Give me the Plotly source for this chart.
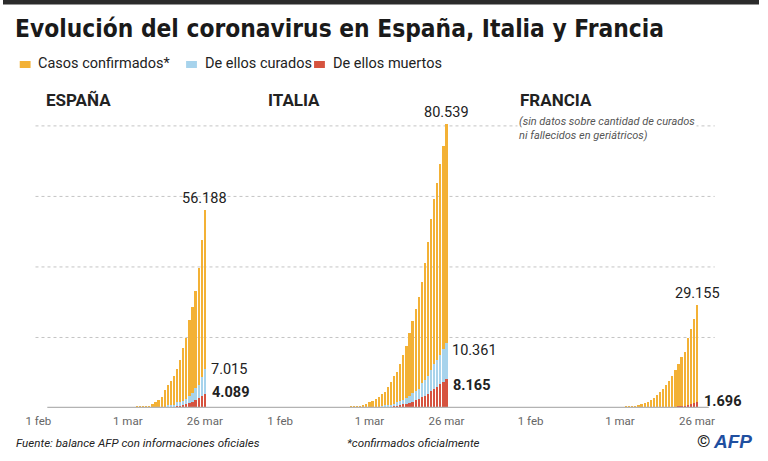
import plotly.graph_objects as go
import pandas as pd

# ---------------- data ----------------
dates = pd.date_range("2020-02-01", "2020-03-26", freq="D").strftime("%Y-%m-%d").tolist()

esp_conf_feb = [1, 1, 1, 1, 1, 1, 1, 1, 2, 2, 2, 2, 2, 2, 2, 2, 2, 2, 2, 2, 2, 2, 2, 2, 6, 13, 15, 32, 45]
esp_conf_mar = [84, 120, 165, 228, 282, 401, 525, 674, 1231, 1695, 2277, 3146, 5232, 6391, 7753, 9191,
                11178, 13716, 17147, 19980, 24926, 28572, 33089, 39673, 47610, 56188]
esp_rec_feb = [0, 0, 0, 0, 0, 0, 0, 0, 0, 0, 0, 0, 0, 0, 2, 2, 2, 2, 2, 2, 2, 2, 2, 2, 2, 2, 2, 2, 2]
esp_rec_mar = [2, 2, 2, 2, 2, 30, 30, 30, 32, 32, 183, 189, 193, 517, 517, 530, 1028, 1081, 1107, 1588,
               2125, 2575, 3355, 3794, 5367, 7015]
esp_dead_feb = [0, 0, 0, 0, 0, 0, 0, 0, 0, 0, 0, 0, 0, 0, 0, 0, 0, 0, 0, 0, 0, 0, 0, 0, 0, 0, 0, 0, 0]
esp_dead_mar = [0, 0, 1, 2, 3, 5, 10, 17, 28, 35, 54, 84, 133, 195, 289, 342, 533, 623, 830, 1043, 1375,
                1772, 2182, 2696, 3434, 4089]

ita_conf_feb = [2, 2, 2, 2, 2, 3, 3, 3, 3, 3, 3, 3, 3, 3, 3, 3, 3, 3, 3, 3, 20, 79, 155, 229, 322, 453, 655, 888, 1128]
ita_conf_mar = [1694, 2036, 2502, 3089, 3858, 4636, 5883, 7375, 9172, 10149, 12462, 15113, 17660, 21157,
                24747, 27980, 31506, 35713, 41035, 47021, 53578, 59138, 63927, 69176, 74386, 80539]
ita_rec_feb = [0, 0, 0, 0, 0, 0, 0, 0, 0, 0, 0, 0, 0, 0, 0, 0, 0, 0, 0, 0, 0, 0, 0, 0, 1, 3, 45, 46, 46]
ita_rec_mar = [83, 149, 160, 276, 414, 523, 589, 622, 724, 1004, 1045, 1258, 1439, 1966, 2335, 2749, 2941,
               4025, 4440, 5129, 6072, 7024, 7432, 8326, 9362, 10361]
ita_dead_feb = [0, 0, 0, 0, 0, 0, 0, 0, 0, 0, 0, 0, 0, 0, 0, 0, 0, 0, 0, 0, 1, 2, 3, 7, 10, 12, 17, 21, 29]
ita_dead_mar = [34, 52, 79, 107, 148, 197, 233, 366, 463, 631, 827, 1016, 1266, 1441, 1809, 2158, 2503,
                2978, 3405, 4032, 4825, 5476, 6077, 6820, 7503, 8165]

fra_conf_feb = [6, 6, 6, 6, 6, 6, 6, 11, 11, 11, 11, 11, 11, 11, 12, 12, 12, 12, 12, 12, 12, 12, 12, 12, 14, 18, 38, 57, 100]
fra_conf_mar = [130, 191, 212, 285, 423, 653, 949, 1126, 1412, 1784, 2284, 2876, 3661, 4499, 5423, 6633,
                7652, 9043, 10871, 12612, 14459, 16018, 19856, 22302, 25233, 29155]
fra_dead_feb = [0, 0, 0, 0, 0, 0, 0, 0, 0, 0, 0, 0, 0, 0, 1, 1, 1, 1, 1, 1, 1, 1, 1, 1, 1, 1, 1, 1, 1]
fra_dead_mar = [2, 3, 4, 4, 7, 9, 11, 19, 25, 33, 48, 61, 79, 91, 127, 148, 175, 264, 372, 450, 562, 674,
                860, 1100, 1331, 1696]

tick_vals = ["2020-02-01", "2020-03-01", "2020-03-26"]
tick_text = ["1 feb", "1 mar", "26 mar"]
grid_vals = [20000, 40000, 60000, 80000]

countries = [
    dict(name="ESPAÑA", conf=esp_conf_feb + esp_conf_mar, rec=esp_rec_feb + esp_rec_mar,
         dead=esp_dead_feb + esp_dead_mar, ax="x", p0=36, rec_shift=-1, dead_shift=1),
    dict(name="ITALIA", conf=ita_conf_feb + ita_conf_mar, rec=ita_rec_feb + ita_rec_mar,
         dead=ita_dead_feb + ita_dead_mar, ax="x2", p0=281.5, rec_shift=-8, dead_shift=-6),
    dict(name="FRANCIA", conf=fra_conf_feb + fra_conf_mar, rec=None,
         dead=fra_dead_feb + fra_dead_mar, ax="x3", p0=536, rec_shift=0, dead_shift=1),
]

# ---------------- style ----------------
W, H = 768, 461
FONT = "Roboto, sans-serif"
TFONT = "DejaVu Sans Condensed, Roboto, sans-serif"
YEL, BLU, RED = "#F3B135", "#A7D3EC", "#D6533F"
PX_DAY = 3.13
BASE_PY = 408
PX_PER_UNIT = 284 / 80539
YMAX = 85000


def X(px):
    return px / W


def Y(py):
    return 1 - py / H


fig = go.Figure()
layout_axes = {}
for i, c in enumerate(countries):
    ax = c["ax"]
    rec = c["rec"] if c["rec"] is not None else [0] * len(c["conf"])
    rest = [cf - r - d for cf, r, d in zip(c["conf"], rec, c["dead"])]
    fig.add_trace(go.Bar(x=dates, y=c["dead"], marker_color=RED, marker_line_width=0,
                         xaxis=ax, yaxis="y", showlegend=False, hoverinfo="skip"))
    if c["rec"] is not None:
        fig.add_trace(go.Bar(x=dates, y=rec, marker_color=BLU, marker_line_width=0,
                             xaxis=ax, yaxis="y", showlegend=False, hoverinfo="skip"))
    fig.add_trace(go.Bar(x=dates, y=rest, marker_color=YEL, marker_line_width=0,
                         xaxis=ax, yaxis="y", showlegend=False, hoverinfo="skip"))
    left = c["p0"] - 3 * PX_DAY
    right = left + 60 * PX_DAY
    key = "xaxis" if i == 0 else "xaxis%d" % (i + 1)
    layout_axes[key] = dict(
        domain=[X(left), X(right)], range=["2020-01-29", "2020-03-29"], type="date",
        anchor="y", showgrid=False, zeroline=False, showline=False, ticks="",
        tickvals=tick_vals, ticktext=tick_text, ticklabelstandoff=4,
        tickfont=dict(family=FONT, size=11.5, color="#666666"),
    )

ytop = BASE_PY - YMAX * PX_PER_UNIT
fig.update_layout(
    width=W, height=H, autosize=False,
    margin=dict(l=0, r=0, t=0, b=0),
    paper_bgcolor="white", plot_bgcolor="rgba(0,0,0,0)",
    barmode="stack", bargap=0.28,
    yaxis=dict(domain=[Y(BASE_PY), Y(ytop)], range=[0, YMAX], showgrid=False, zeroline=False,
               showticklabels=False, showline=False, ticks="", anchor="x"),
    **layout_axes,
)

shapes = []
# top dark bar
shapes.append(dict(type="rect", xref="paper", yref="paper", x0=0, x1=1, y0=Y(4.5), y1=1.0,
                   fillcolor="#2b2b2b", line=dict(width=0), layer="above"))
# grid lines
for g in grid_vals:
    shapes.append(dict(type="line", xref="paper", yref="y", x0=X(33), x1=X(723), y0=g, y1=g,
                       line=dict(color="#c4c4c4", width=1, dash="dot"), layer="below"))
# baseline
shapes.append(dict(type="line", xref="paper", yref="y", x0=X(45), x1=X(717), y0=0, y1=0,
                   line=dict(color="#b3b3b3", width=2.5), layer="above"))
# legend swatches
for x0, col in [(17, YEL), (186, BLU), (316, RED)]:
    shapes.append(dict(type="rect", xref="paper", yref="paper", x0=X(x0), x1=X(x0 + 11),
                       y0=Y(68), y1=Y(61), fillcolor=col, line_width=0))

ann = []


def txt(px, py, text, size, color="#222222", bold=False, italic=False, xanchor="left", family=FONT, bg=None):
    t = text
    if bold:
        t = "<b>%s</b>" % t
    if italic:
        t = "<i>%s</i>" % t
    d = dict(xref="paper", yref="paper", x=X(px), y=Y(py), text=t, showarrow=False,
             xanchor=xanchor, yanchor="middle", font=dict(family=family, size=size, color=color))
    if bg:
        d["bgcolor"] = bg
    ann.append(d)


txt(10, 28, "Evolución del coronavirus en España, Italia y Francia", 24.3, color="#1a1a1a", bold=True, family=TFONT)
txt(34, 64, "Casos confirmados*", 14.5)
txt(203, 64, "De ellos curados", 14.5)
txt(333, 64, "De ellos muertos", 14.5)
txt(42, 100, "ESPAÑA", 17, bold=True)
txt(267, 100, "ITALIA", 17, bold=True)
txt(523, 100, "FRANCIA", 17, bold=True)
txt(522, 122, "(sin datos sobre cantidad de curados", 11, color="#555555", italic=True, bg="white")
txt(522, 135, "ni fallecidos en geriátricos)", 11, color="#555555", italic=True)
txt(11, 443, "Fuente: balance AFP con informaciones oficiales", 11.6, italic=True)
txt(347, 443, "*confirmados oficialmente", 11.6, italic=True)
txt(703, 441, "©", 17, color="#222222")
txt(719, 441, "AFP", 19, color="#1f4fa0", bold=True, italic=True, family="Liberation Sans, Arial, sans-serif")

# value labels at the last day
last = dates[-1]


def fmt(v):
    return "{:,}".format(v).replace(",", ".")


for c in countries:
    ax = c["ax"]
    conf = c["conf"][-1]
    ann.append(dict(xref=ax, yref="y", x=last, y=conf, text=fmt(conf), showarrow=False,
                    xanchor="center", yanchor="bottom", yshift=1,
                    font=dict(family=FONT, size=14.5, color="#222222")))
    dead = c["dead"][-1]
    if c["rec"] is not None:
        rec = c["rec"][-1]
        ann.append(dict(xref=ax, yref="y", x=last, y=rec + dead, text=fmt(rec), showarrow=False,
                        xanchor="left", yanchor="middle", xshift=4, yshift=c["rec_shift"],
                        font=dict(family=FONT, size=14.5, color="#222222")))
    ann.append(dict(xref=ax, yref="y", x=last, y=dead, text="<b>%s</b>" % fmt(dead), showarrow=False,
                    xanchor="left", yanchor="middle", xshift=5, yshift=c["dead_shift"],
                    font=dict(family=FONT, size=14.5, color="#222222")))

fig.update_layout(shapes=shapes, annotations=ann)
fig.write_html("out.html", config={"displayModeBar": False},
               post_script="document.body.style.margin='0px';")
